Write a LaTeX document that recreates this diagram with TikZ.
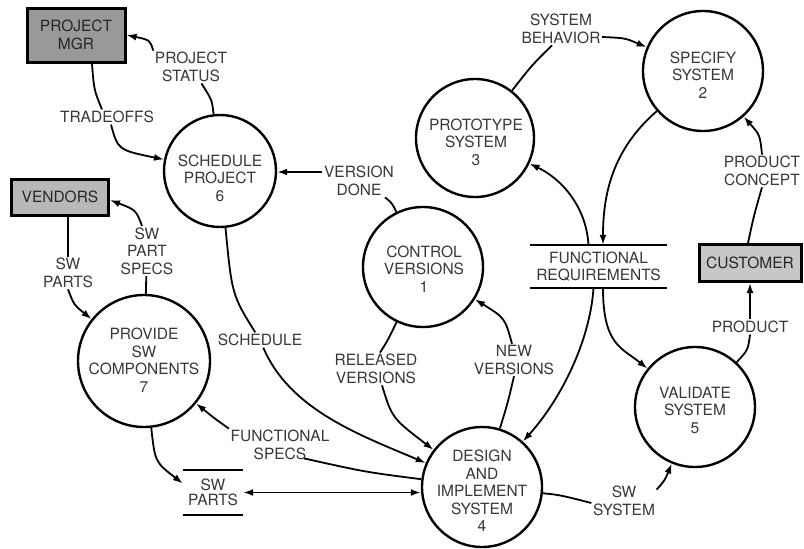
\documentclass[tikz,border=0pt]{standalone}
\usepackage{fontspec}
\setmainfont{TeX Gyre Heros}
\usetikzlibrary{arrows.meta,calc}
\begin{document}
\begin{tikzpicture}[x=1pt,y=-1pt,
  lbl/.style={font=\fontsize{15.5}{17.5}\selectfont, text=black!78, align=center, inner sep=1.5pt},
  proc/.style={circle, draw, line width=2.4pt, minimum size=#1, inner sep=0pt},
  ext/.style={draw, line width=3pt, fill=#1, lbl, text=black!85},
  flow/.style={line width=1.8pt},
  arr/.style={flow, -{Latex[length=10pt,width=7pt]}},
  arrs/.style={flow, {Latex[length=10pt,width=7pt]}-{Latex[length=10pt,width=7pt]}},
  store/.style={lbl, minimum height=43pt},
]
\useasboundingbox (0,0) rectangle (804,549);

% external entities
\node[ext=black!40, minimum width=98pt, minimum height=54pt] (mgr) at (76,35) {PROJECT\\MGR};
\node[ext=black!28, minimum width=97pt, minimum height=36pt] (vend) at (60,197) {VENDORS};
\node[ext=black!22, minimum width=102pt, minimum height=37pt] (cust) at (750,263) {CUSTOMER};

% processes
\node[proc=112pt] (n6) at (220,171) {};
\node[lbl] (t6) at (220,178) {SCHEDULE\\PROJECT\\6};
\node[proc=118pt] (n3) at (475,138) {};
\node[lbl] (t3) at (476,142) {PROTOTYPE\\SYSTEM\\3};
\node[proc=120pt] (n2) at (703,71) {};
\node[lbl] (t2) at (703,75) {SPECIFY\\SYSTEM\\2};
\node[proc=120pt] (n1) at (423,267) {};
\node[lbl] (t1) at (424,269) {CONTROL\\VERSIONS\\1};
\node[proc=132pt] (n7) at (144,361) {};
\node[lbl] (t7) at (144,360) {PROVIDE\\SW\\COMPONENTS\\7};
\node[proc=120pt] (n4) at (482,487) {};
\node[lbl] (t4) at (482,491) {DESIGN\\AND\\IMPLEMENT\\SYSTEM\\4};
\node[proc=120pt] (n5) at (695,407) {};
\node[lbl] (t5) at (695,410) {VALIDATE\\SYSTEM\\5};

% data stores
\node[store, minimum width=137pt] (fr) at (598.5,266.5) {FUNCTIONAL\\REQUIREMENTS};
\draw[flow] (fr.north west) -- (fr.north east) (fr.south west) -- (fr.south east);
\node[store, minimum width=60pt, minimum height=45pt, font=\fontsize{15.5}{14.5}\selectfont] (swp) at (213,492.5) {SW\\PARTS};
\draw[flow] (swp.north west) -- (swp.north east) (swp.south west) -- (swp.south east);

% flow labels
\node[lbl] (lPS) at (191,67) {PROJECT\\STATUS};
\node[lbl] (lTO) at (107,117) {TRADEOFFS};
\node[lbl] (lVD) at (359,181) {VERSION\\DONE};
\node[lbl] (lSch) at (260,340) {SCHEDULE};
\node[lbl] (lSWP) at (68,273) {SW\\PARTS};
\node[lbl] (lSPS) at (147,251) {SW\\PART\\SPECS};
\node[lbl] (lFS) at (280,445) {FUNCTIONAL\\SPECS};
\node[lbl] (lRV) at (376,369) {RELEASED\\VERSIONS};
\node[lbl] (lNV) at (514,360) {NEW\\VERSIONS};
\node[lbl] (lSB) at (561,29) {SYSTEM\\BEHAVIOR};
\node[lbl] (lPC) at (762,171) {PRODUCT\\CONCEPT};
\node[lbl] (lP) at (750,327) {PRODUCT};
\node[lbl] (lSS) at (624,501) {SW\\SYSTEM};

% flows
\draw[flow] (n6) .. controls (212,100) .. (lPS);
\draw[arr] (lPS.north west) .. controls (150,40) .. (mgr.east);

\draw[flow] ([xshift=16pt]mgr.south) .. controls (94,90) .. ([xshift=-5pt]lTO.north);
\draw[arr] ([xshift=4pt]lTO.south) .. controls (118,150) .. (n6);

\draw[flow] (n1) .. controls (392,203) .. ([xshift=26pt]lVD.south);
\draw[arr] ($(lVD.west)+(0,-9)$) -- ($(lVD.west -| n6.east)+(0,-9)$);

\draw[flow] (n6) .. controls (232,295) .. (lSch);
\draw[arr] (lSch) .. controls (290,410) and (360,435) .. (n4);

\draw[flow] ([xshift=8pt]vend.south) -- (lSWP.north);
\draw[arr] (lSWP.south) .. controls (74,305) .. (n7);

\draw[flow] (n7) -- (lSPS);
\draw[arr] ([xshift=-5pt]lSPS.north) .. controls (136,210) .. ([yshift=-3pt]vend.east);

\draw[flow] (n4) .. controls (365,472) .. ($(lFS.south)+(24,-3)$);
\draw[arr] (lFS.north west) .. controls (214,418) .. (n7);

\draw[arr] (n7) .. controls (155,462) .. ([yshift=9pt]swp.west);
\draw[arrs] (swp.east) -- (swp.east -| n4.west);

\draw[flow] (n1) .. controls (388,340) .. ([xshift=4pt]lRV.north);
\draw[arr] ([xshift=6pt]lRV.south) .. controls (392,418) .. (n4);

\draw[flow] (n4) .. controls (508,402) .. (lNV.south);
\draw[arr] ([xshift=-2pt]lNV.north) .. controls (505,318) .. (n1);

\draw[arr] ([xshift=-10pt]fr.north) .. controls (586,205) and (560,178) .. (n3);
\draw[arr] (n2) .. controls (612,150) and (603,195) .. ([xshift=4.5pt]fr.north);
\draw[arr] ([xshift=-5pt]fr.south) .. controls (590,340) and (562,398) .. (n4);
\draw[arr] ([xshift=4.5pt]fr.south) .. controls (603,345) and (622,348) .. (n5);

\draw[flow] (n3) .. controls (532,65) .. ([xshift=-9pt]lSB.south);
\draw[arr] ($(lSB.east)+(0,8)$) .. controls (625,38) .. (n2);

\draw[flow] ([xshift=-2pt]cust.north) .. controls (754,215) .. (lPC.south);
\draw[arr] (lPC.north) .. controls (760,135) .. (n2);

\draw[flow] (n5) .. controls (748,350) .. (lP.south);
\draw[arr] (lP.north) -- (lP.north |- cust.south);

\draw[flow] (n4) .. controls (560,495) .. ($(lSS.west)+(0,2)$);
\draw[arr] ($(lSS.north east)+(0,5)$) .. controls (665,480) .. (n5);
\end{tikzpicture}
\end{document}
